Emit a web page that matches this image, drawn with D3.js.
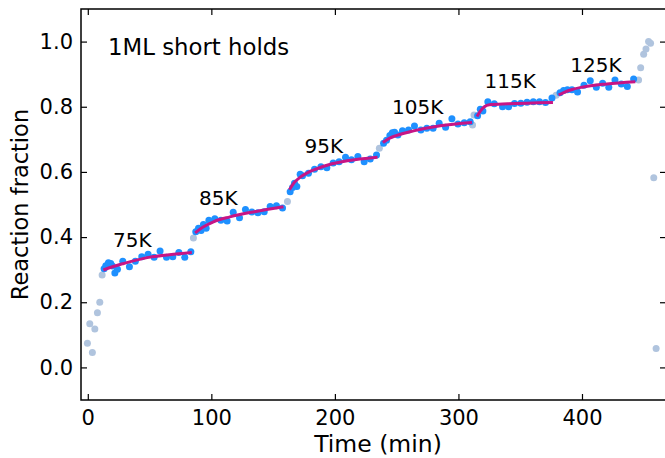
<!DOCTYPE html>
<html><head><meta charset="utf-8">
<script src="https://cdn.jsdelivr.net/npm/d3@7"></script>
<style>
html,body{margin:0;padding:0;background:#fff;}
svg{display:block;}
text{font-family:"DejaVu Sans",sans-serif;fill:#000;}
</style></head>
<body>
<svg id="chart" width="665" height="458"></svg>
<script>
// ---- data (time in min, reaction fraction) ----
const xTicks = [0, 100, 200, 300, 400];
const yTicks = [0.0, 0.2, 0.4, 0.6, 0.8, 1.0];
const xLabel = "Time (min)";
const yLabel = "Reaction fraction";
const title = "1ML short holds";

const transitionPoints = [[-0.3,0.074],[1.6,0.134],[3.7,0.046],[5.7,0.118],[7.8,0.168],[9.7,0.2],[11.6,0.284],
  [85.5,0.397],[161.6,0.509],[236,0.673],[311.4,0.744],[312.6,0.775],[379,0.835],
  [445.8,0.882],[447.5,0.92],[449.9,0.961],[451.8,0.977],[453.9,1.0],[455.5,0.995],[458.1,0.582],[460,0.058]];

const hold75 = [[13.2,0.303],[14.6,0.312],[16.7,0.321],[18.6,0.319],[19.9,0.311],[21.9,0.29],[24,0.301],[28.3,0.326],[33.7,0.309],[38.5,0.326],[43.7,0.34],[48.8,0.347],[53.7,0.338],[58.5,0.357],[63.7,0.338],[68.8,0.34],[73.7,0.353],[78.5,0.338],[83.4,0.355]];
const hold85 = [[87.4,0.416],[89.6,0.427],[91.7,0.42],[93.6,0.439],[95.8,0.427],[98,0.452],[102.8,0.456],[107.7,0.452],[112.8,0.449],[117.7,0.476],[122.8,0.459],[127.6,0.485],[132.8,0.477],[137.7,0.475],[142.8,0.478],[147.6,0.494],[152.7,0.496],[157.6,0.489]];
const hold95 = [[163.8,0.539],[165.7,0.552],[167.3,0.565],[169.2,0.555],[171.9,0.593],[173.8,0.588],[178.6,0.596],[183.5,0.608],[188.7,0.616],[193.5,0.613],[198.6,0.627],[203.4,0.631],[208.6,0.645],[213.4,0.637],[218.6,0.647],[223.7,0.631],[228.6,0.64],[233.7,0.652]];
const hold105 = [[239.4,0.688],[241.8,0.697],[244.5,0.712],[246.5,0.72],[248.3,0.722],[251,0.713],[254.7,0.726],[259.6,0.729],[264.4,0.741],[269.6,0.729],[274.4,0.734],[279.5,0.734],[284.4,0.749],[289.6,0.737],[294.7,0.763],[299.6,0.747],[304.7,0.751],[309.5,0.754]];
const hold115 = [[315.5,0.772],[317.7,0.792],[319.8,0.787],[323.8,0.815],[329,0.809],[335.7,0.8],[340.6,0.8],[345.4,0.81],[350.5,0.811],[355.5,0.814],[360.6,0.815],[365.6,0.815],[370.5,0.813],[375.7,0.827]];
const hold125 = [[382.2,0.843],[385.1,0.85],[388.2,0.852],[391.9,0.852],[396.4,0.845],[401.6,0.866],[406.7,0.88],[411.6,0.86],[416.7,0.872],[421.7,0.86],[426.7,0.882],[431.8,0.87],[436.7,0.862],[441.8,0.885]];

const fit75 = [[12.6,0.299],[20,0.309],[29,0.319],[48,0.337],[66,0.346],[84.2,0.353]];
const fit85 = [[86.9,0.413],[93,0.430],[101.7,0.447],[115,0.462],[135,0.478],[158.4,0.493]];
const fit95 = [[163.2,0.545],[167,0.567],[172,0.584],[178,0.598],[185,0.609],[195,0.622],[210,0.634],[234.5,0.645]];
const fit105 = [[238.9,0.69],[244,0.703],[250.2,0.712],[263.7,0.726],[285.3,0.742],[311,0.752]];
const fit115 = [[315,0.77],[318,0.788],[321,0.8],[325,0.806],[340,0.809],[376.5,0.813]];
const fit125 = [[381.1,0.836],[386,0.845],[392,0.853],[400,0.86],[420,0.87],[443.2,0.877]];

const tempLabels = ["75K","85K","95K","105K","115K","125K"];
const tempLabelT = [20.5, 90.1, 175.5, 246.2, 321.1, 390.5];
const tempLabelV = [0.369, 0.498, 0.658, 0.778, 0.858, 0.907];

// ---- layout ----
const svg = d3.select("#chart");
const mLeft = 81, mRight = 666, mTop = 9, mBottom = 400;
const x = d3.scaleLinear().domain([-5.5, 468]).range([mLeft, mRight]);
const y = d3.scaleLinear().domain([-0.1, 1.1]).range([mBottom, mTop]);

svg.append("defs").append("clipPath").attr("id","clip")
  .append("rect").attr("x",mLeft).attr("y",mTop).attr("width",mRight-mLeft).attr("height",mBottom-mTop);

const plot = svg.append("g").attr("clip-path","url(#clip)");
const R = 3.5;
plot.selectAll("circle.t").data(transitionPoints).join("circle")
  .attr("class","t").attr("cx",d=>x(d[0])).attr("cy",d=>y(d[1])).attr("r",R).attr("fill","#b0c4de");
const holds = [hold75, hold85, hold95, hold105, hold115, hold125];
holds.forEach(h => {
  plot.append("g").selectAll("circle").data(h).join("circle")
    .attr("cx",d=>x(d[0])).attr("cy",d=>y(d[1])).attr("r",R).attr("fill","#1e90ff");
});
const line = d3.line().x(d=>x(d[0])).y(d=>y(d[1])).curve(d3.curveMonotoneX);
[fit75, fit85, fit95, fit105, fit115, fit125].forEach(f => {
  plot.append("path").datum(f).attr("d",line).attr("fill","none")
    .attr("stroke","#c71585").attr("stroke-width",3).attr("stroke-linecap","butt");
});

// ---- axes ----
const fs = 21;
const tl = 6;
const axB = svg.append("g").attr("transform",`translate(0,${mBottom})`)
  .call(d3.axisBottom(x).tickValues(xTicks).tickSizeInner(-tl).tickSizeOuter(0).tickPadding(10).tickFormat(d3.format("d")));
const axT = svg.append("g").attr("transform",`translate(0,${mTop})`)
  .call(d3.axisTop(x).tickValues(xTicks).tickSizeInner(-tl).tickSizeOuter(0).tickFormat(""));
const axL = svg.append("g").attr("transform",`translate(${mLeft},0)`)
  .call(d3.axisLeft(y).tickValues(yTicks).tickSizeInner(-tl).tickSizeOuter(0).tickPadding(8).tickFormat(d3.format(".1f")));
const axR = svg.append("g").attr("transform",`translate(${mRight},0)`)
  .call(d3.axisRight(y).tickValues(yTicks).tickSizeInner(-tl).tickSizeOuter(0).tickFormat(""));
[axB, axT, axL, axR].forEach(a => {
  a.select(".domain").remove();
  a.selectAll(".tick line").attr("stroke","#000").attr("stroke-width",1.2);
  a.selectAll(".tick text").style("font-family","DejaVu Sans").style("font-size",fs+"px").attr("fill","#000");
});
svg.append("rect").attr("x",mLeft).attr("y",mTop).attr("width",mRight-mLeft).attr("height",mBottom-mTop)
  .attr("fill","none").attr("stroke","#000").attr("stroke-width",1.5);

svg.append("text").attr("x",378).attr("y",452).attr("text-anchor","middle")
  .style("font-size","23.5px").text(xLabel);
svg.append("text").attr("transform",`translate(28,${(mTop+mBottom)/2}) rotate(-90)`).attr("text-anchor","middle")
  .style("font-size","22.5px").text(yLabel);

svg.append("text").attr("x",x(16.4)).attr("y",y(0.959)).style("font-size","22.8px").text(title);
svg.selectAll("text.temp").data(tempLabels).join("text").attr("class","temp")
  .attr("x",(d,i)=>x(tempLabelT[i])).attr("y",(d,i)=>y(tempLabelV[i]))
  .style("font-size","20px").text(d=>d);
</script>
</body></html>
